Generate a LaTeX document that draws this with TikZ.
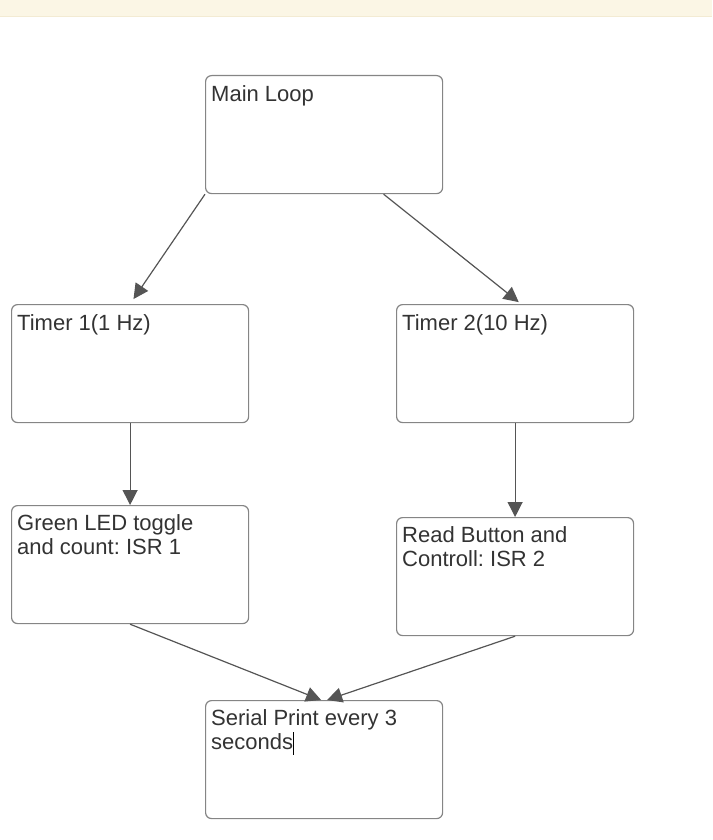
\documentclass[tikz,border=0pt]{standalone}
\usepackage{fontspec}
\setmainfont{Liberation Sans}
\usepackage{tikz}
\usetikzlibrary{arrows.meta}

\definecolor{boxgray}{HTML}{858585}
\definecolor{arrgray}{HTML}{555555}
\definecolor{txtgray}{HTML}{333333}
\definecolor{bandfill}{HTML}{FBF6E5}
\definecolor{bandline}{HTML}{F3EBD3}
\frenchspacing

\begin{document}
\begin{tikzpicture}[x=1pt,y=-1pt,
    box/.style={draw=boxgray,line width=1.2pt,rounded corners=6pt,fill=white,
      minimum width=237pt,minimum height=118pt,inner sep=0pt,anchor=north west},
    txt/.style={anchor=north west,inner sep=0pt,align=left,text=txtgray,
      font=\fontsize{22}{24.3}\selectfont,execute at begin node=\strut},
    arr/.style={draw=arrgray,line width=1.2pt,-{Triangle[length=15pt,width=15pt]}}]
        \useasboundingbox (0,0) rectangle (712,840);
        % \draw[help lines] (0,0) grid[step=50] (712,840);
        \fill[bandfill] (0,0) rectangle (712,16);
        \draw[bandline] (0,16.5) -- (712,16.5);
        \foreach \nm/\x/\y/\txt in {%
          main/205/75/{Main Loop},
          timerone/11/304/{Timer 1(1 Hz)},
          timertwo/396/304/{Timer 2(10 Hz)},
          isrone/11/505/{Green LED toggle\\and count: ISR 1},
          isrtwo/396/517/{Read Button and\\Controll: ISR 2},
          serial/205/700/{Serial Print every 3\\seconds}} {
            \node[box] (\nm) at (\x,\y) {};
            \node[txt] at ([xshift=6pt,yshift=-9.5pt]\nm.north west) {\txt};
        }
        \draw[arr,shorten >=6pt] (main.south west) -- (timerone.north);
        \draw[arr,shorten >=3pt] ([xshift=59.5pt]main.south) -- ([xshift=6pt]timertwo.north);
        \draw[arr] (timerone) -- (isrone);
        \draw[arr] (timertwo) -- (isrtwo);
        \draw[arr] (isrone.south) -- ([xshift=-3pt]serial.north);
        \draw[arr] (isrtwo.south) -- ([xshift=3pt]serial.north);
        % text cursor
        \draw[line width=1.6pt] (293.5,732) -- (293.5,755);
      \end{tikzpicture}
\end{document}
